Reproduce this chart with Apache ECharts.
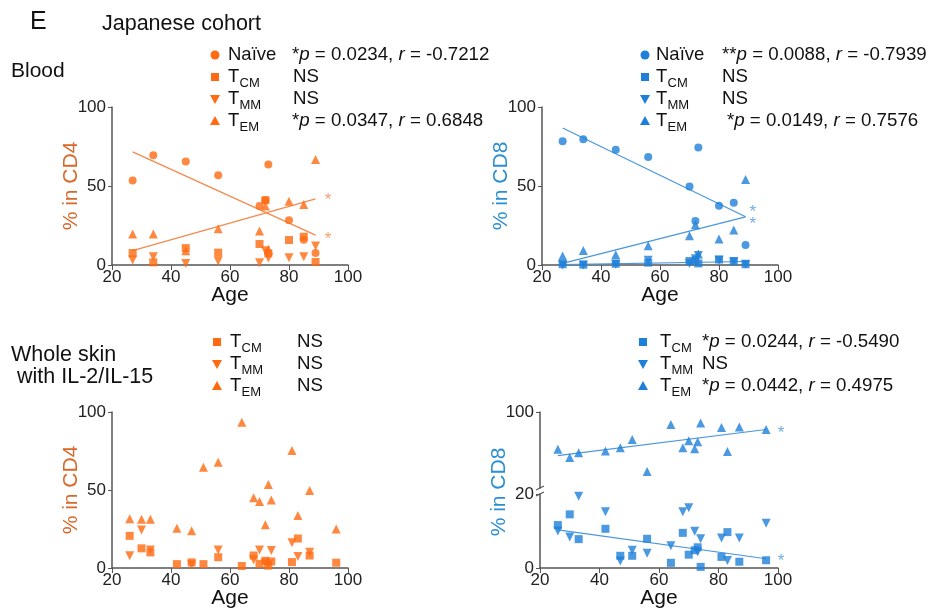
<!DOCTYPE html>
<html>
<head>
<meta charset="utf-8">
<script src="https://cdn.jsdelivr.net/npm/echarts@6/dist/echarts.min.js"></script>
<style>
  html, body { margin: 0; padding: 0; background: #fff; }
  #main { width: 927px; height: 610px; }
</style>
</head>
<body>
<div id="main"></div>
<script>
'use strict';

// ---- data (Japanese cohort) ----
var bloodAges = [27, 34, 45, 56, 70, 72, 73, 80, 85, 89];
var cd4BloodNaive = [53.5, 69.5, 65.5, 56.8, 37.3, 41, 63.6, 28.4, 16, 7.6];
var cd4BloodTcm = [7.6, 1.7, 10.7, 7.8, 13.3, 41, 7.4, 15.8, 17.9, 1.9];
var cd4BloodTmm = [3.2, 5.3, 1, 2.5, 1.5, 9, 4.5, 4.6, 5.3, 12];
var cd4BloodTem = [19.6, 19.6, 9, 23, 21.5, 37.3, 10, 40.4, 38.3, 66.7];

var cd8BloodNaive = [78.3, 79.6, 73, 68.4, 49.7, 27.8, 74.3, 37.5, 39.4, 12.6];
var cd8BloodTcm = [0.5, 0.2, 0.8, 1.5, 2.5, 3, 1, 3.5, 2.5, 0.5];
var cd8BloodTmm = [0, 0, 0.5, 3, 1, 4, 6, 3, 2, 0.5];
var cd8BloodTem = [5.7, 9.1, 6.5, 12.2, 18.5, 25.5, 6.9, 16.4, 22.1, 54.1];

var skinAges = [26, 30, 33, 42, 47, 51, 56, 64, 68, 70, 72, 73, 74, 81, 83, 87, 96];
var cd4SkinTcm = [20.6, 12.6, 10, 2.5, 3.6, 2.5, 6.9, 1.3, 8, 2.7, 4.6, 1.5, 4.2, 3.8, 18.9, 8, 3.4];
var cd4SkinTmm = [7.8, 24.4, 11.6, null, 2.1, null, 11.6, null, 5.3, 11.6, 3.2, 2, 11.2, 16.2, 7.4, 10.1, null];
var cd4SkinTem = [31.6, 31.2, 31.2, 25.5, 23.8, 64.6, 67.8, 93.5, 45, 42.7, 27.8, 53.5, 43.6, 75.4, 33.7, 49.7, 25];

var cd8SkinTcm = [11.6, 14.5, 7.8, 10.6, 3.3, 3.3, 7.9, 1.4, 9.5, 3.6, 4.8, 5.6, 0.3, 3, 9.7, 1.7, 2.1];
var cd8SkinTmm = [10, 8.4, 19.4, 15.2, 1.9, 4.8, 4, 6, 15.2, 16.3, 9.9, 4.4, 7.9, 8.1, 2, 8.1, 12.1];
var cd8SkinTem = [60.7, 52, 57.2, 59, 62.4, 71.1, 37.4, 86.8, 62.4, 69.7, 61.4, 68.7, 88.5, 83.7, 58.3, 84.3, 81.6];

// regression lines (end points as drawn)
var fitCd4BloodNaive = [[27, 71.6], [89, 18.9]];
var fitCd4BloodTem = [[27, 9.1], [89, 41.9]];
var fitCd8BloodNaive = [[27, 86.7], [89, 30.5]];
var fitCd8BloodTem = [[27, 1], [89, 30.5]];
var fitCd8BloodTcm = [[27, 0.3], [89, 2.2]];
var fitCd8SkinTcm = [[26, 10.3], [96, 2.5]];
var fitCd8SkinTem = [[26, 54.1], [96, 81.6]];

// significance asterisks
var starsCd4Blood = [[93.2, 43.6], [93.2, 18.5]];
var starsCd8Blood = [[91.5, 35.8], [91.5, 28]];
var starsCd8SkinLow = [[101, 2.8]];
var starsCd8SkinHigh = [[101, 81.6]];

var FONT = '"Liberation Sans", Arial, Helvetica, sans-serif';
var ORANGE = '#ff6a12', ORANGE_LINE = '#f4894c', ORANGE_TITLE = '#d8692a';
var BLUE = '#1e7fd8', BLUE_LINE = '#4b96dc', BLUE_TITLE = '#2b8fd3';
var AXIS = '#555';
var STAT_SIZE = 18.7;

var pairs = function(xs, ys) {
    var out = [];
    for (var i = 0; i < xs.length; i++) {
        if (ys[i] !== null) out.push([xs[i], ys[i]]);
    }
    return out;
};

var dots = function(idx, xs, ys, kind, color) {
    var sym = kind === 'circle' ? 'circle' : (kind === 'square' ? 'rect' : 'triangle');
    return {
        type: 'scatter', xAxisIndex: idx, yAxisIndex: idx, silent: true,
        data: pairs(xs, ys), symbol: sym,
        symbolRotate: kind === 'down' ? 180 : 0,
        symbolSize: kind === 'circle' ? 8 : (kind === 'square' ? 8 : 9),
        itemStyle: { color: color }, z: 3
    };
};

var fit = function(idx, pts, color) {
    return {
        type: 'line', xAxisIndex: idx, yAxisIndex: idx, silent: true,
        data: pts, symbol: 'none', lineStyle: { color: color, width: 1.2 }, z: 2
    };
};

var stars = function(idx, pts, color) {
    return {
        type: 'scatter', xAxisIndex: idx, yAxisIndex: idx, silent: true, clip: false,
        data: pts, symbolSize: 0.1, itemStyle: { color: 'transparent' },
        label: { show: true, position: 'inside', formatter: '*', color: color,
                 fontSize: 17, fontFamily: FONT, offset: [0, 4] }
    };
};

var xAx = function(idx, show) {
    return {
        gridIndex: idx, type: 'value', min: 20, max: 100, interval: 20, show: show !== false,
        name: 'Age', nameLocation: 'middle', nameGap: 20, nameMoveOverlap: false,
        nameTextStyle: { fontFamily: FONT, fontSize: 21, color: '#111' },
        axisLine: { lineStyle: { color: AXIS, width: 1.5 } },
        axisTick: { length: 5, lineStyle: { color: AXIS } },
        axisLabel: { fontFamily: FONT, fontSize: 17, color: '#222', margin: 4 },
        splitLine: { show: false }
    };
};

var yAx = function(idx, title, color) {
    return {
        gridIndex: idx, type: 'value', min: 0, max: 100, interval: 50,
        name: title, nameLocation: 'middle', nameRotate: 90, nameGap: 30, nameMoveOverlap: false,
        nameTextStyle: { fontFamily: FONT, fontSize: 21, color: color },
        axisLine: { show: true, lineStyle: { color: AXIS, width: 1.5 } },
        axisTick: { show: true, length: 4, lineStyle: { color: AXIS } },
        axisLabel: { fontFamily: FONT, fontSize: 17, color: '#222', margin: 6 },
        splitLine: { show: false }
    };
};

// broken CD8 skin axis: lower 0-20, upper 20-100
var yLow = yAx(3, '', BLUE_TITLE);
yLow.max = 20; yLow.interval = 20;
var yHigh = yAx(4, '', BLUE_TITLE);
yHigh.min = 20; yHigh.interval = 80;
yHigh.axisLabel.formatter = function(v) { return v === 100 ? '100' : ''; };
yHigh.axisTick.customValues = [100];

// ---- text and legends ----
var txt = function(x, y, s, size, color, extra) {
    var el = { type: 'text', x: x, y: y, style: {
        text: s, fontFamily: FONT, fontSize: size, fill: color || '#111',
        textVerticalAlign: 'middle', verticalAlign: 'middle' } };
    if (extra) for (var k in extra) el.style[k] = extra[k];
    return el;
};

var ital = { i: { fontStyle: 'italic', fontFamily: FONT, fontSize: STAT_SIZE, fill: '#111' } };

var icon = function(kind, x, y, color) {
    if (kind === 'circle') return { type: 'circle', shape: { cx: x, cy: y, r: 4.5 }, style: { fill: color } };
    if (kind === 'square') return { type: 'rect', shape: { x: x - 4, y: y - 4, width: 8, height: 8 }, style: { fill: color } };
    if (kind === 'up') return { type: 'polygon', shape: { points: [[x, y - 5], [x + 5, y + 4], [x - 5, y + 4]] }, style: { fill: color } };
    return { type: 'polygon', shape: { points: [[x - 5, y - 4], [x + 5, y - 4], [x, y + 5]] }, style: { fill: color } };
};

// one legend row: marker, label (T + subscript or plain), statistic text
var row = function(list, kind, color, ix, tx, y, label, sub, stat, sx) {
    list.push(icon(kind, ix, y, color));
    list.push(txt(tx, y, label, 18.5));
    if (sub) list.push(txt(tx + 11.5, y + 6, sub, 13));
    list.push(txt(sx, y, stat, STAT_SIZE, '#111', { rich: ital }));
};

var g = [];
g.push(txt(30, 22, 'E', 25));
g.push(txt(102, 24, 'Japanese cohort', 21.5));
g.push(txt(11, 71, 'Blood', 21));
g.push(txt(11, 355, 'Whole skin', 21.5));
g.push(txt(17, 377, 'with IL-2/IL-15', 21.5));

row(g, 'circle', ORANGE, 215, 228, 55, 'Naïve', '', '*{i|p} = 0.0234, {i|r} = -0.7212', 292);
row(g, 'square', ORANGE, 215, 228, 77, 'T', 'CM', 'NS', 293);
row(g, 'down', ORANGE, 215, 228, 99, 'T', 'MM', 'NS', 293);
row(g, 'up', ORANGE, 215, 228, 121, 'T', 'EM', '*{i|p} = 0.0347, {i|r} = 0.6848', 292);

row(g, 'circle', BLUE, 645, 656, 55, 'Naïve', '', '**{i|p} = 0.0088, {i|r} = -0.7939', 722);
row(g, 'square', BLUE, 645, 656, 77, 'T', 'CM', 'NS', 722);
row(g, 'down', BLUE, 645, 656, 99, 'T', 'MM', 'NS', 722);
row(g, 'up', BLUE, 645, 656, 121, 'T', 'EM', '*{i|p} = 0.0149, {i|r} = 0.7576', 727);

row(g, 'square', ORANGE, 217, 230, 342, 'T', 'CM', 'NS', 297);
row(g, 'down', ORANGE, 217, 230, 364, 'T', 'MM', 'NS', 297);
row(g, 'up', ORANGE, 217, 230, 386, 'T', 'EM', 'NS', 297);

row(g, 'square', BLUE, 643, 660, 342, 'T', 'CM', '*{i|p} = 0.0244, {i|r} = -0.5490', 702);
row(g, 'down', BLUE, 643, 660, 364, 'T', 'MM', 'NS', 702);
row(g, 'up', BLUE, 643, 660, 386, 'T', 'EM', '*{i|p} = 0.0442, {i|r} = 0.4975', 702);

// y title for the broken axis, and the break marks
g.push({ type: 'text', x: 499, y: 492, rotation: Math.PI / 2, style: {
    text: '% in CD8', fontFamily: FONT, fontSize: 21, fill: BLUE_TITLE,
    textAlign: 'center', align: 'center', textVerticalAlign: 'middle', verticalAlign: 'middle' } });
g.push({ type: 'line', shape: { x1: 536, y1: 490, x2: 544, y2: 486 }, style: { stroke: AXIS, lineWidth: 1.2 } });
g.push({ type: 'line', shape: { x1: 536, y1: 496, x2: 544, y2: 492 }, style: { stroke: AXIS, lineWidth: 1.2 } });

var option = {
    animation: false,
    backgroundColor: '#fff',
    grid: [
        { left: 112, top: 107, width: 236, height: 158 },
        { left: 542, top: 107, width: 236, height: 158 },
        { left: 112, top: 412, width: 236, height: 158 },
        { left: 540, top: 494, width: 238, height: 76 },
        { left: 540, top: 412, width: 238, height: 76 }
    ],
    xAxis: [xAx(0), xAx(1), xAx(2), xAx(3), xAx(4, false)],
    yAxis: [yAx(0, '% in CD4', ORANGE_TITLE), yAx(1, '% in CD8', BLUE_TITLE),
            yAx(2, '% in CD4', ORANGE_TITLE), yLow, yHigh],
    graphic: g,
    series: [
        dots(0, bloodAges, cd4BloodNaive, 'circle', ORANGE),
        dots(0, bloodAges, cd4BloodTem, 'up', ORANGE),
        dots(0, bloodAges, cd4BloodTmm, 'down', ORANGE),
        dots(0, bloodAges, cd4BloodTcm, 'square', ORANGE),
        fit(0, fitCd4BloodNaive, ORANGE_LINE),
        fit(0, fitCd4BloodTem, ORANGE_LINE),
        stars(0, starsCd4Blood, ORANGE_LINE),

        dots(1, bloodAges, cd8BloodNaive, 'circle', BLUE),
        dots(1, bloodAges, cd8BloodTem, 'up', BLUE),
        dots(1, bloodAges, cd8BloodTmm, 'down', BLUE),
        dots(1, bloodAges, cd8BloodTcm, 'square', BLUE),
        fit(1, fitCd8BloodNaive, BLUE_LINE),
        fit(1, fitCd8BloodTem, BLUE_LINE),
        fit(1, fitCd8BloodTcm, BLUE_LINE),
        stars(1, starsCd8Blood, BLUE_LINE),

        dots(2, skinAges, cd4SkinTem, 'up', ORANGE),
        dots(2, skinAges, cd4SkinTmm, 'down', ORANGE),
        dots(2, skinAges, cd4SkinTcm, 'square', ORANGE),

        dots(3, skinAges, cd8SkinTmm, 'down', BLUE),
        dots(3, skinAges, cd8SkinTcm, 'square', BLUE),
        fit(3, fitCd8SkinTcm, BLUE_LINE),
        stars(3, starsCd8SkinLow, BLUE_LINE),
        dots(4, skinAges, cd8SkinTem, 'up', BLUE),
        fit(4, fitCd8SkinTem, BLUE_LINE),
        stars(4, starsCd8SkinHigh, BLUE_LINE)
    ]
};

var chart = echarts.init(document.getElementById('main'));
chart.setOption(option);
</script>
</body>
</html>
